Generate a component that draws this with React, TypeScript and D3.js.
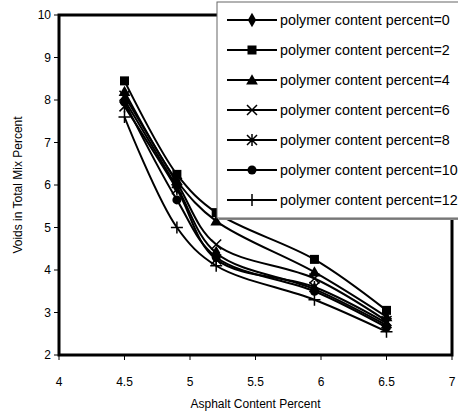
import * as d3 from "d3";

const W = 458;
const H = 414;
const M = { left: 59, right: 6, top: 15, bottom: 59 };

const asphalt = [4.5, 4.9, 5.2, 5.95, 6.5];
const seriesNames = [
  "polymer content percent=0",
  "polymer content percent=2",
  "polymer content percent=4",
  "polymer content percent=6",
  "polymer content percent=8",
  "polymer content percent=10",
  "polymer content percent=12",
];
const markers = ["diamond", "square", "triangle", "x", "star", "circle", "plus"];
const pc0 = [8.0, 5.95, 4.4, 3.55, 2.7];
const pc2 = [8.45, 6.25, 5.35, 4.25, 3.05];
const pc4 = [8.2, 6.1, 5.15, 3.95, 2.9];
const pc6 = [8.1, 6.05, 4.6, 3.8, 2.8];
const pc8 = [7.85, 5.9, 4.25, 3.6, 2.75];
const pc10 = [7.95, 5.65, 4.3, 3.5, 2.65];
const pc12 = [7.6, 5.0, 4.1, 3.3, 2.55];
const allSeries = [pc0, pc2, pc4, pc6, pc8, pc10, pc12];

const xTicks = [4, 4.5, 5, 5.5, 6, 6.5, 7];
const yTicks = [2, 3, 4, 5, 6, 7, 8, 9, 10];

const FONT = "Liberation Sans, Arial, sans-serif";

function Marker({ kind, x, y }: { kind: string; x: number; y: number }) {
  const t = `translate(${x},${y})`;
  if (kind === "diamond")
    return <path transform={t} d={d3.symbol(d3.symbolDiamond, 60)()!} fill="#000" />;
  if (kind === "square") return <rect x={x - 4.5} y={y - 4.5} width={9} height={9} fill="#000" />;
  if (kind === "triangle")
    return <path transform={`translate(${x},${y + 1})`} d={d3.symbol(d3.symbolTriangle, 60)()!} fill="#000" />;
  if (kind === "circle") return <circle cx={x} cy={y} r={4.5} fill="#000" />;
  if (kind === "x")
    return <path transform={t} d="M-5,-5L5,5M-5,5L5,-5" stroke="#000" strokeWidth={1.5} />;
  if (kind === "star")
    return (
      <path transform={t} d="M-5,-5L5,5M-5,5L5,-5M0,-6L0,6" stroke="#000" strokeWidth={1.5} />
    );
  return <path transform={t} d="M-6,0L6,0M0,-6L0,6" stroke="#000" strokeWidth={1.5} />;
}

export default function App() {
  const x = d3.scaleLinear().domain([4, 7]).range([M.left, W - M.right]);
  const y = d3.scaleLinear().domain([2, 10]).range([H - M.bottom, M.top]);
  const line = d3
    .line<number>()
    .x((_, i) => x(asphalt[i]))
    .y((d) => y(d))
    .curve(d3.curveCatmullRom.alpha(0.5));

  const x0 = x(4);
  const x1 = x(7);
  const y0 = y(2);
  const y1 = y(10);

  const lg = { x: 217, y: 2, w: 260, h: 216 };

  return (
    <svg
      width={W}
      height={H}
      style={{ position: "absolute", left: 0, top: 0, background: "#fff" }}
      fontFamily={FONT}
    >
      {/* series */}
      {allSeries.map((s, k) => (
        <path key={`l${k}`} d={line(s)!} fill="none" stroke="#000" strokeWidth={2} />
      ))}
      {allSeries.map((s, k) =>
        s.map((v, i) => <Marker key={`m${k}-${i}`} kind={markers[k]} x={x(asphalt[i])} y={y(v)} />)
      )}
      {/* frame */}
      <rect x={x0} y={y1} width={x1 - x0} height={y0 - y1} fill="none" stroke="#000" strokeWidth={3} />
      {xTicks.map((t) => (
        <g key={`tx${t}`}>
          <line x1={x(t)} x2={x(t)} y1={y0} y2={y0 + 5} stroke="#000" />
          <text x={x(t)} y={y0 + 31} fontSize={12} textAnchor="middle">
            {t}
          </text>
        </g>
      ))}
      {yTicks.map((t) => (
        <g key={`ty${t}`}>
          <line x1={x0 - 5} x2={x0} y1={y(t)} y2={y(t)} stroke="#000" />
          <text x={x0 - 8} y={y(t) + 4} fontSize={12} textAnchor="end">
            {t}
          </text>
        </g>
      ))}
      <text x={(x0 + x1) / 2} y={408} fontSize={12} textAnchor="middle">
        Asphalt Content Percent
      </text>
      <text
        transform={`translate(22,${(y0 + y1) / 2}) rotate(-90)`}
        fontSize={12}
        textAnchor="middle"
      >
        Voids in Total Mix Percent
      </text>
      {/* legend */}
      <rect x={lg.x + 2} y={lg.y + 2} width={lg.w} height={lg.h} fill="#888" />
      <rect x={lg.x} y={lg.y} width={lg.w} height={lg.h} fill="#fff" stroke="#666" strokeWidth={1} />
      {seriesNames.map((n, k) => {
        const cy = 20 + k * 30;
        return (
          <g key={`lg${k}`}>
            <line x1={227} x2={277} y1={cy} y2={cy} stroke="#000" strokeWidth={2} />
            <Marker kind={markers[k]} x={252} y={cy} />
            <text x={280} y={cy + 5} fontSize={14.3}>
              {n}
            </text>
          </g>
        );
      })}
    </svg>
  );
}
